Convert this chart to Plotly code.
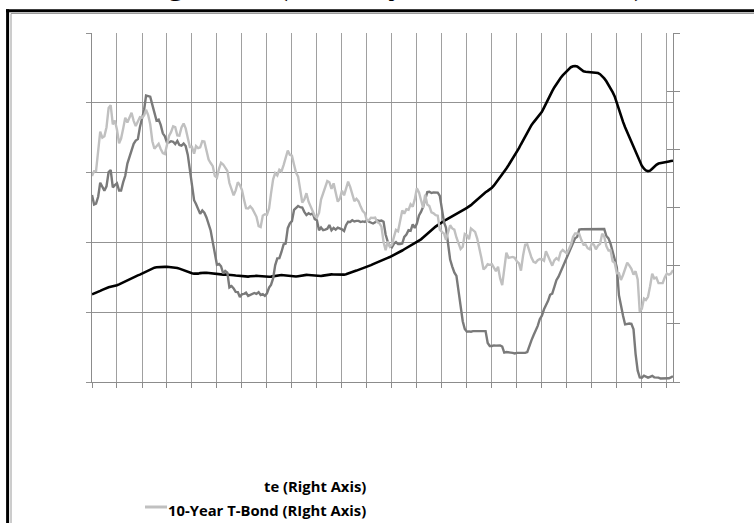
import plotly.graph_objects as go
import pandas as pd

# Monthly dates Jan 1987 - Apr 2010
dates = pd.date_range("1987-01-01", "2010-04-01", freq="MS")

# Case-Shiller home price index (Left Axis)
case_shiller = [
    62.8, 63.3, 63.9, 64.6, 65.3, 66.0, 66.7, 67.3, 67.8, 68.2, 68.5, 68.7,
    69.3, 69.9, 70.6, 71.4, 72.2, 73.0, 73.8, 74.6, 75.3, 75.9, 76.4, 76.9,
    77.6, 78.4, 79.3, 80.1, 80.8, 81.4, 81.9, 82.2, 82.4, 82.5, 82.5, 82.5,
    82.6, 82.5, 82.4, 82.3, 82.1, 81.7, 81.2, 80.6, 80.0, 79.3, 78.7, 78.2,
    77.9, 77.6, 77.4, 77.6, 78.0, 78.3, 78.3, 78.2, 78.0, 77.8, 77.5, 77.3,
    77.2, 77.0, 76.9, 76.9, 77.0, 77.0, 76.9, 76.7, 76.5, 76.3, 76.1, 75.9,
    75.7, 75.5, 75.4, 75.5, 75.7, 75.9, 76.0, 76.0, 75.9, 75.7, 75.6, 75.5,
    75.4, 75.4, 75.5, 75.8, 76.1, 76.4, 76.6, 76.6, 76.5, 76.3, 76.1, 75.9,
    75.7, 75.6, 75.6, 75.8, 76.1, 76.4, 76.6, 76.7, 76.6, 76.4, 76.2, 76.0,
    75.9, 75.8, 75.9, 76.2, 76.5, 76.8, 77.0, 77.1, 77.0, 76.9, 76.7, 76.6,
    76.7, 76.9, 77.2, 77.6, 78.2, 78.8, 79.3, 79.8, 80.3, 80.8, 81.3, 81.9,
    82.5, 83.1, 83.7, 84.4, 85.1, 85.8, 86.5, 87.1, 87.7, 88.3, 88.9, 89.5,
    90.2, 90.9, 91.6, 92.4, 93.3, 94.2, 95.1, 96.0, 96.9, 97.8, 98.7, 99.4,
    100.0, 101.0, 102.2, 103.5, 104.9, 106.3, 107.6, 108.9, 110.1, 111.3, 112.4, 113.5,
    114.4, 115.3, 116.2, 117.1, 118.0, 118.9, 119.8, 120.7, 121.5, 122.3, 123.1, 123.9,
    124.7, 125.6, 126.7, 128.0, 129.4, 130.9, 132.3, 133.6, 134.8, 135.9, 136.9, 137.9,
    139.2, 140.8, 142.6, 144.5, 146.5, 148.6, 150.8, 153.0, 155.3, 157.6, 159.9, 162.2,
    164.8, 167.5, 170.3, 173.2, 176.2, 179.2, 181.8, 184.0, 186.0, 187.8, 189.5, 191.2,
    193.5, 196.5, 199.5, 202.5, 205.5, 208.3, 211.0, 213.5, 215.8, 217.8, 219.6, 221.2,
    222.8, 224.3, 225.5, 226.2, 226.4, 226.0, 224.8, 223.5, 222.6, 222.2, 222.0, 222.0,
    222.0, 221.9, 221.7, 221.3, 220.5, 219.2, 217.5, 215.4, 213.0, 210.4, 207.6, 204.6,
    199.5, 195.0, 190.5, 186.3, 182.5, 179.0, 175.6, 172.2, 168.7, 165.0, 161.2, 157.5,
    154.8, 152.8, 151.6, 151.0, 151.4, 152.8, 154.3, 155.6, 156.5, 156.9, 157.1, 157.4,
    157.7, 158.0, 158.3, 158.5,
]

# Federal Funds Rate (Right Axis)
fed_funds = [
    6.43, 6.10, 6.13, 6.37, 6.85, 6.73, 6.58, 6.73, 7.22, 7.29, 6.69, 6.77,
    6.83, 6.58, 6.58, 6.87, 7.09, 7.51, 7.75, 8.01, 8.19, 8.30, 8.35, 8.76,
    9.12, 9.36, 9.85, 9.84, 9.81, 9.53, 9.24, 8.99, 9.02, 8.84, 8.55, 8.45,
    8.23, 8.24, 8.28, 8.26, 8.18, 8.29, 8.15, 8.13, 8.20, 8.11, 7.81, 7.31,
    6.91, 6.25, 6.12, 5.91, 5.78, 5.90, 5.82, 5.66, 5.45, 5.21, 4.81, 4.43,
    4.03, 4.06, 3.98, 3.73, 3.82, 3.76, 3.25, 3.30, 3.22, 3.10, 3.09, 2.92,
    3.02, 3.03, 3.07, 2.96, 3.00, 3.04, 3.06, 3.03, 3.09, 2.99, 3.02, 2.96,
    3.05, 3.25, 3.34, 3.56, 4.01, 4.25, 4.26, 4.47, 4.73, 4.76, 5.29, 5.45,
    5.53, 5.92, 5.98, 6.05, 6.01, 6.00, 5.85, 5.74, 5.80, 5.76, 5.80, 5.60,
    5.56, 5.22, 5.31, 5.22, 5.24, 5.27, 5.40, 5.22, 5.30, 5.24, 5.31, 5.29,
    5.25, 5.19, 5.39, 5.51, 5.50, 5.56, 5.52, 5.54, 5.54, 5.50, 5.52, 5.50,
    5.56, 5.51, 5.49, 5.45, 5.49, 5.56, 5.54, 5.55, 5.51, 5.07, 4.83, 4.68,
    4.63, 4.76, 4.81, 4.74, 4.74, 4.76, 4.99, 5.07, 5.22, 5.20, 5.42, 5.30,
    5.45, 5.73, 5.85, 6.02, 6.27, 6.53, 6.54, 6.50, 6.52, 6.51, 6.51, 6.40,
    5.98, 5.49, 5.31, 4.80, 4.21, 3.97, 3.77, 3.65, 3.07, 2.49, 2.09, 1.82,
    1.73, 1.74, 1.73, 1.75, 1.75, 1.75, 1.73, 1.74, 1.75, 1.75, 1.34, 1.24,
    1.24, 1.26, 1.25, 1.26, 1.26, 1.22, 1.01, 1.03, 1.01, 1.01, 1.00, 0.98,
    1.00, 1.01, 1.00, 1.00, 1.00, 1.03, 1.26, 1.43, 1.61, 1.76, 1.93, 2.16,
    2.28, 2.50, 2.63, 2.79, 3.00, 3.04, 3.26, 3.50, 3.62, 3.78, 4.00, 4.16,
    4.29, 4.49, 4.59, 4.79, 4.94, 4.99, 5.24, 5.25, 5.25, 5.25, 5.25, 5.24,
    5.25, 5.26, 5.26, 5.25, 5.25, 5.25, 5.26, 5.02, 4.94, 4.76, 4.49, 4.24,
    3.94, 2.98, 2.61, 2.28, 1.98, 2.00, 2.01, 2.00, 1.81, 0.97, 0.39, 0.16,
    0.15, 0.22, 0.18, 0.15, 0.18, 0.21, 0.16, 0.16, 0.15, 0.12, 0.12, 0.12,
    0.11, 0.13, 0.16, 0.20,
]

# 10-Year T-Bond (Right Axis)
t_bond_10y = [
    7.08, 7.25, 7.25, 8.02, 8.61, 8.40, 8.45, 8.76, 9.42, 9.52, 8.86, 8.99,
    8.67, 8.21, 8.37, 8.72, 9.09, 8.92, 9.06, 9.26, 8.98, 8.80, 8.96, 9.11,
    9.09, 9.17, 9.36, 9.18, 8.86, 8.28, 8.02, 8.11, 8.19, 8.01, 7.87, 7.84,
    8.21, 8.47, 8.59, 8.79, 8.76, 8.48, 8.47, 8.75, 8.89, 8.72, 8.39, 8.08,
    8.09, 7.85, 8.11, 8.04, 8.07, 8.28, 8.27, 7.90, 7.65, 7.53, 7.42, 7.09,
    7.03, 7.34, 7.54, 7.48, 7.39, 7.26, 6.84, 6.59, 6.42, 6.59, 6.87, 6.77,
    6.60, 6.26, 5.98, 5.97, 6.04, 5.96, 5.81, 5.68, 5.36, 5.33, 5.72, 5.77,
    5.75, 5.97, 6.48, 6.97, 7.18, 7.10, 7.30, 7.24, 7.46, 7.74, 7.96, 7.81,
    7.78, 7.47, 7.20, 7.06, 6.63, 6.17, 6.28, 6.49, 6.20, 6.04, 5.93, 5.71,
    5.65, 5.81, 6.27, 6.51, 6.74, 6.91, 6.87, 6.64, 6.83, 6.53, 6.20, 6.30,
    6.58, 6.42, 6.69, 6.89, 6.71, 6.49, 6.22, 6.30, 6.21, 6.03, 5.88, 5.81,
    5.54, 5.57, 5.65, 5.64, 5.65, 5.50, 5.46, 5.34, 4.81, 4.53, 4.83, 4.65,
    4.72, 5.00, 5.23, 5.18, 5.54, 5.90, 5.79, 5.94, 5.92, 6.11, 6.03, 6.28,
    6.66, 6.52, 6.26, 5.99, 6.44, 6.10, 6.05, 5.83, 5.80, 5.74, 5.72, 5.24,
    5.16, 5.10, 4.89, 5.14, 5.39, 5.28, 5.24, 4.97, 4.73, 4.57, 4.65, 5.09,
    5.04, 4.91, 5.28, 5.21, 5.16, 4.93, 4.65, 4.26, 3.87, 3.94, 4.05, 4.03,
    4.05, 3.90, 3.81, 3.96, 3.57, 3.33, 3.98, 4.45, 4.27, 4.29, 4.30, 4.27,
    4.15, 4.08, 3.83, 4.35, 4.72, 4.73, 4.50, 4.28, 4.13, 4.10, 4.19, 4.23,
    4.22, 4.17, 4.50, 4.34, 4.14, 4.00, 4.18, 4.26, 4.20, 4.46, 4.54, 4.47,
    4.42, 4.57, 4.72, 4.99, 5.11, 5.11, 5.09, 4.88, 4.72, 4.73, 4.60, 4.56,
    4.76, 4.72, 4.56, 4.69, 4.75, 5.10, 5.00, 4.67, 4.52, 4.53, 4.15, 4.10,
    3.74, 3.74, 3.51, 3.68, 3.88, 4.10, 4.01, 3.89, 3.69, 3.81, 3.53, 2.42,
    2.52, 2.87, 2.82, 2.93, 3.29, 3.72, 3.56, 3.59, 3.40, 3.39, 3.40, 3.59,
    3.73, 3.69, 3.73, 3.85,
]

legend_top_text = "te (Right Axis)"
legend_bond_text = "10-Year T-Bond (RIght Axis)"
title_text = "Borrowing Rates (Monthly Data and Values)"

# plot-area pixel geometry helpers (plot area: x 92..673, y 33..382)
PL, PR, PT, PB = 92, 673, 33, 382
def px(x):
    return (x - PL) / (PR - PL)
def py(y):
    return (PB - y) / (PB - PT)

fig = go.Figure()
fig.add_trace(go.Scatter(x=dates, y=case_shiller, mode="lines",
                         line=dict(color="#000000", width=2.6), yaxis="y", name="Case-Shiller"))
fig.add_trace(go.Scatter(x=dates, y=fed_funds, mode="lines",
                         line=dict(color="#7a7a7a", width=2.4), yaxis="y2", name="Fed Funds Rate"))
fig.add_trace(go.Scatter(x=dates, y=t_bond_10y, mode="lines",
                         line=dict(color="#c0c0c0", width=2.4), yaxis="y2", name="10-Year T-Bond"))
fig.add_trace(go.Scatter(x=[], y=[], yaxis="y3", showlegend=False))

fig.update_layout(
    width=754, height=523, autosize=False,
    margin=dict(l=PL, r=754 - PR, t=PT, b=523 - PB, pad=0),
    paper_bgcolor="white", plot_bgcolor="white",
    showlegend=False,
    xaxis=dict(type="date", range=["1987-01-01", "2010-04-01"],
               tick0="1987-01-01", dtick="M12",
               showgrid=True, gridcolor="#a0a0a0", gridwidth=1,
               showticklabels=False, ticks="outside", ticklen=5,
               tickcolor="#8c8c8c", showline=True, linecolor="#8c8c8c",
               zeroline=False),
    yaxis=dict(range=[0, 250], dtick=50, showgrid=True, gridcolor="#939393",
               showticklabels=False, ticks="outside", ticklen=5, tickcolor="#939393",
               showline=True, linecolor="#8c8c8c", zeroline=False),
    yaxis2=dict(range=[0, 12], dtick=2, overlaying="y", side="right",
                showgrid=False, showticklabels=False, ticks="outside", ticklen=6,
                tickcolor="#8c8c8c", showline=True, linecolor="#8c8c8c", zeroline=False),
    yaxis3=dict(range=[0, 12], dtick=2, overlaying="y", side="right",
                showgrid=False, showticklabels=False, ticks="inside", ticklen=6,
                tickcolor="#8c8c8c", showline=False, zeroline=False),
)

shapes = [
    # outer frame (thick black + thin gray inner line)
    dict(type="line", xref="paper", yref="paper", x0=px(7.6), x1=px(7.6), y0=py(9.3), y1=py(540),
         line=dict(color="black", width=3)),
    dict(type="line", xref="paper", yref="paper", x0=px(6), x1=px(770), y0=py(10.7), y1=py(10.7),
         line=dict(color="black", width=3)),
    dict(type="line", xref="paper", yref="paper", x0=px(11), x1=px(11), y0=py(13.5), y1=py(540),
         line=dict(color="#9a9a9a", width=1)),
    dict(type="line", xref="paper", yref="paper", x0=px(11), x1=px(770), y0=py(13.5), y1=py(13.5),
         line=dict(color="#9a9a9a", width=1)),
    # legend line sample
    dict(type="line", xref="paper", yref="paper", x0=px(145), x1=px(167), y0=py(507), y1=py(507),
         line=dict(color="#c0c0c0", width=3)),
]
fig.update_layout(shapes=shapes)

annotations = [
    dict(text=title_text, xref="paper", yref="paper", x=px(35), y=py(4),
         xanchor="left", yanchor="bottom", showarrow=False,
         font=dict(family="Liberation Serif", size=34, color="black")),
    dict(text="<b>" + legend_top_text + "</b>", xref="paper", yref="paper", x=px(368), y=py(486),
         xanchor="right", yanchor="middle", showarrow=False,
         font=dict(family="Open Sans", size=14.8, color="black")),
    dict(text="<b>" + legend_bond_text + "</b>", xref="paper", yref="paper", x=px(368), y=py(510),
         xanchor="right", yanchor="middle", showarrow=False,
         font=dict(family="Open Sans", size=14.8, color="black")),
]
fig.update_layout(annotations=annotations)

fig.write_html("out.html", config={"displayModeBar": False},
               post_script="document.body.style.margin='0px';")
